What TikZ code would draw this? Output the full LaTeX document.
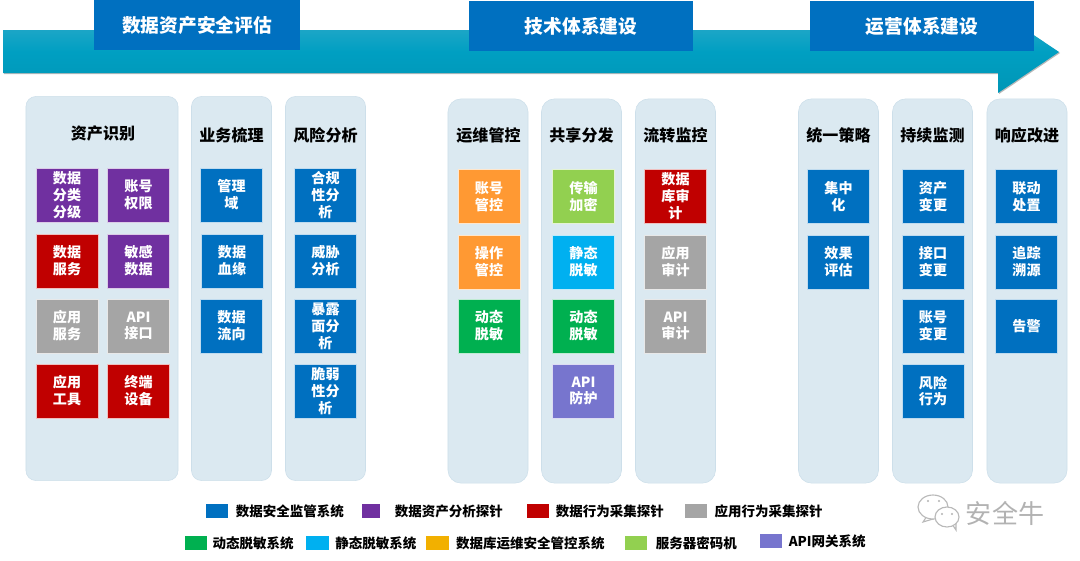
\documentclass[tikz,border=0pt]{standalone}
\usepackage{fontspec}
\setmainfont{Noto Sans CJK SC}
\usepackage{xcolor}
\usetikzlibrary{positioning}

\definecolor{msblue}{HTML}{0070C0}
\definecolor{mspurple}{HTML}{7030A0}
\definecolor{msred}{HTML}{C00000}
\definecolor{msgray}{HTML}{A5A5A5}
\definecolor{msgreen}{HTML}{00B050}
\definecolor{mscyan}{HTML}{00B0F0}
\definecolor{msorange}{HTML}{FF9933}
\definecolor{msamber}{HTML}{F2B000}
\definecolor{mslime}{HTML}{92D050}
\definecolor{msviolet}{HTML}{7775CE}
\definecolor{panelfill}{HTML}{DBE9F1}
\definecolor{paneledge}{HTML}{CDDFEA}
\definecolor{arrowtop}{HTML}{33ABCA}
\definecolor{arrowmid}{HTML}{009FC2}
\definecolor{arrowlow}{HTML}{0096B6}

\tikzset{
  banner/.style={fill=msblue, text=white, minimum width=5.6cm, minimum height=1.25cm, inner sep=0pt, font=\fontsize{13.3}{16}\selectfont\bfseries},
  panel/.style={draw=paneledge, fill=panelfill, minimum width=2cm, minimum height=9.6cm, rounded corners=0.32cm, inner sep=0pt},
  paneltitle/.style={text=black, inner sep=0pt, font=\fontsize{11.4}{14}\selectfont\bfseries},
  cell/.style={draw=white!75!#1, fill=#1, text=white, align=center, minimum width=1.55cm, minimum height=1.36cm, inner sep=0pt, font=\fontsize{10}{12}\selectfont\bfseries},
  swatch/.style={fill=#1, minimum width=0.56cm, minimum height=0.36cm, inner sep=0pt},
  legendtext/.style={text=black, inner sep=0pt, font=\fontsize{9.6}{12}\selectfont\bfseries},
  bubble/.style={fill=white, draw=gray!55, thick},
}

\begin{document}
\begin{tikzpicture}[x=0.025cm, y=-0.025cm]
\useasboundingbox (0,0) rectangle (1080,560);

% Timeline arrow with its shadow
\fill[gray!55] (4,31.5) -- (999,31.5) -- (999,12.5) -- (1060,53) -- (999,94) -- (999,74) -- (4,74) -- cycle;
\path[top color=arrowtop, bottom color=arrowlow, middle color=arrowmid]
  (3,30) -- (998,30) -- (998,11) -- (1059,52) -- (998,93) -- (998,73) -- (3,73) -- cycle;

% Phase banners
\node[banner, minimum width=5.15cm] (assess) at (197,25) {数据资产安全评估};
\node[banner] (tech) at (581,26) {技术体系建设};
\node[banner] (ops) at (922,26) {运营体系建设};

% Assessment panels
\node[panel, minimum width=3.8cm, rounded corners=0.25cm] (panelasset) at (102,288.5) {};
\node[panel, rounded corners=0.25cm] (panelbiz) at (231.5,288.5) {};
\node[panel, rounded corners=0.25cm] (panelrisk) at (325.5,288.5) {};
\node[paneltitle] (titleasset) at (103,133) {资产识别};
\node[paneltitle] (titlebiz) at (231.5,135) {业务梳理};
\node[paneltitle] (titlerisk) at (325.5,135) {风险分析};

% Technical panels
\node[panel] (panelops) at (488,291) {};
\node[panel] (panelshare) at (581.5,291) {};
\node[panel] (panelflow) at (675.5,291) {};
\node[paneltitle] (titleops) at (488.5,135) {运维管控};
\node[paneltitle] (titleshare) at (581.5,135) {共享分发};
\node[paneltitle] (titleflow) at (675.5,135) {流转监控};

% Operation panels
\node[panel] (panelpolicy) at (838.5,291) {};
\node[panel] (panelwatch) at (932.5,291) {};
\node[panel] (panelreact) at (1027,291) {};
\node[paneltitle] (titlepolicy) at (838.5,135) {统一策略};
\node[paneltitle] (titlewatch) at (932.5,135) {持续监测};
\node[paneltitle] (titlereact) at (1027,135) {响应改进};

% Asset cells
\node[cell=mspurple] (classify) at (67,195) {数据\\分类\\分级};
\node[cell=mspurple] (account) at (138.5,195) {账号\\权限};
\node[cell=msred] (dataservice) at (67,261) {数据\\服务};
\node[cell=mspurple] (sensitive) at (138.5,261) {敏感\\数据};
\node[cell=msgray] (appservice) at (67,326) {应用\\服务};
\node[cell=msgray] (apiport) at (138.5,326) {API\\接口};
\node[cell=msred] (apptool) at (67,391) {应用\\工具};
\node[cell=msred] (terminal) at (138.5,391) {终端\\设备};

% Business cells
\node[cell=msblue] (domain) at (231.5,195) {管理\\域};
\node[cell=msblue] (lineage) at (232,261) {数据\\血缘};
\node[cell=msblue] (flowdir) at (231.5,326) {数据\\流向};

% Risk cells
\node[cell=msblue] (comply) at (325.5,195) {合规\\性分\\析};
\node[cell=msblue] (threat) at (325.5,261) {威胁\\分析};
\node[cell=msblue] (expose) at (325.5,326) {暴露\\面分\\析};
\node[cell=msblue] (weak) at (325.5,391) {脆弱\\性分\\析};

% Maintenance cells
\node[cell=msorange] (acctctl) at (489,196.5) {账号\\管控};
\node[cell=msorange] (opctl) at (489,262) {操作\\管控};
\node[cell=msgreen] (dynmask) at (489,326) {动态\\脱敏};

% Sharing cells
\node[cell=mslime] (encrypt) at (583.5,196.5) {传输\\加密};
\node[cell=mscyan] (statmask) at (583.5,262) {静态\\脱敏};
\node[cell=msgreen] (dynshare) at (583.5,326) {动态\\脱敏};
\node[cell=msviolet] (apiguard) at (583.5,391) {API\\防护};

% Flow cells
\node[cell=msred] (dbaudit) at (675.5,196.5) {数据\\库审\\计};
\node[cell=msgray] (appaudit) at (675.5,262) {应用\\审计};
\node[cell=msgray] (apiaudit) at (675.5,326) {API\\审计};

% Policy cells
\node[cell=msblue] (central) at (838.5,196.5) {集中\\化};
\node[cell=msblue] (effect) at (838.5,262) {效果\\评估};

% Monitoring cells
\node[cell=msblue] (assetchg) at (933,196.5) {资产\\变更};
\node[cell=msblue] (portchg) at (933,262) {接口\\变更};
\node[cell=msblue] (acctchg) at (933,326) {账号\\变更};
\node[cell=msblue] (riskact) at (933,391) {风险\\行为};

% Response cells
\node[cell=msblue] (linkage) at (1026.5,196.5) {联动\\处置};
\node[cell=msblue] (trace) at (1026.5,262) {追踪\\溯源};
\node[cell=msblue] (alert) at (1026.5,326) {告警};

% Legend, first row
\node[swatch=msblue] (keya) at (217,511) {};
\node[legendtext, right=0.18cm of keya] (texta) {数据安全监管系统};
\node[swatch=mspurple, minimum width=0.46cm] (keyb) at (371,511) {};
\node[legendtext, right=0.35cm of keyb] (textb) {数据资产分析探针};
\node[swatch=msred] (keyc) at (538,511) {};
\node[legendtext, right=0.15cm of keyc] (textc) {数据行为采集探针};
\node[swatch=msgray] (keyd) at (696,511) {};
\node[legendtext, right=0.17cm of keyd] (textd) {应用行为采集探针};

% Legend, second row
\node[swatch=msgreen] (keye) at (196,543) {};
\node[legendtext, right=0.12cm of keye] (texte) {动态脱敏系统};
\node[swatch=mscyan] (keyf) at (317.5,543) {};
\node[legendtext, right=0.15cm of keyf] (textf) {静态脱敏系统};
\node[swatch=msamber] (keyg) at (437.5,543) {};
\node[legendtext, right=0.17cm of keyg] (textg) {数据库运维安全管控系统};
\node[swatch=mslime] (keyh) at (636,543) {};
\node[legendtext, right=0.2cm of keyh] (texth) {服务器密码机};
\node[swatch=msviolet] (keyi) at (771,541) {};
\node[legendtext, right=0.15cm of keyi] (texti) {API网关系统};

% Watermark
\node[text=gray!60, inner sep=0pt, font=\fontsize{18.5}{22}\selectfont] (mark) at (1005,513) {安全牛};
\draw[bubble] (927,516) -- (923,522) -- (933,519) -- cycle;
\draw[bubble] (933,507) ellipse (15 and 12);
\draw[bubble] (952,524) -- (956,530) -- (956,522) -- cycle;
\draw[bubble] (947,517) ellipse (12 and 10);
\fill[gray!60] (928,501) circle (1.2) (939,501) circle (1.2) (942,514) circle (1.2) (952,514) circle (1.2);
\end{tikzpicture}
\end{document}
